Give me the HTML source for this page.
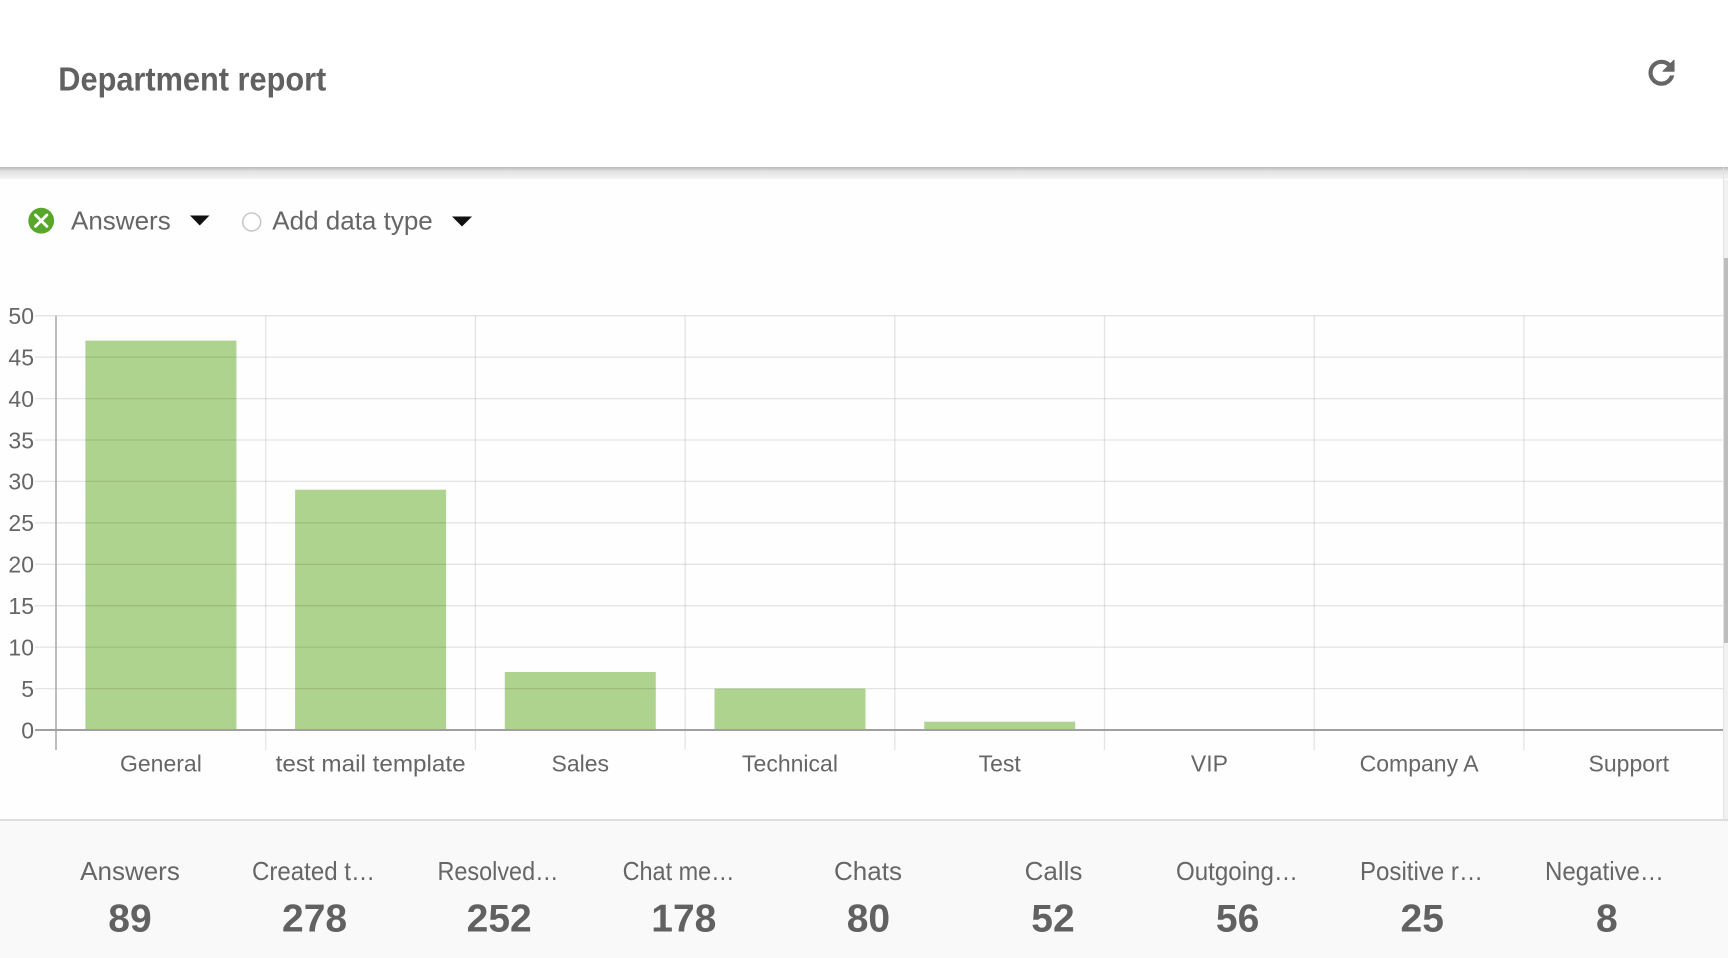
<!DOCTYPE html>
<html>
<head>
<meta charset="utf-8">
<style>
  html, body { margin:0; padding:0; width:1728px; height:958px; overflow:hidden; background:#fefefe; }
  svg { display:block; }
  text { font-family:"Liberation Sans", Arial, sans-serif; }
</style>
</head>
<body>
<svg width="1728" height="958" viewBox="0 0 1728 958" xmlns="http://www.w3.org/2000/svg">
  <defs>
    <linearGradient id="sh" x1="0" y1="0" x2="0" y2="1">
      <stop offset="0" stop-color="#b8b8b8"/>
      <stop offset="0.35" stop-color="#e2e2e2"/>
      <stop offset="1" stop-color="#f4f4f4"/>
    </linearGradient>
  </defs>

  <!-- background -->
  <rect x="0" y="0" width="1728" height="958" fill="#fefefe"/>

  <!-- header -->
  <rect x="0" y="0" width="1728" height="167" fill="#ffffff"/>
  <rect x="0" y="167" width="1728" height="12" fill="url(#sh)"/>
  <text x="58.3" y="90.7" font-size="33" font-weight="bold" fill="#616161" textLength="268" lengthAdjust="spacingAndGlyphs">Department report</text>

  <!-- refresh icon -->
  <svg x="1642.75" y="54" width="37.5" height="37.5" viewBox="0 0 24 24">
    <path d="M17.65 6.35C16.2 4.9 14.21 4 12 4c-4.420 0-7.99 3.58-7.99 8s3.57 8 7.99 8c3.73 0 6.84-2.55 7.73-6h-2.08c-.82 2.33-3.04 4-5.650 4-3.31 0-6-2.69-6-6s2.69-6 6-6c1.66 0 3.14.69 4.22 1.78L13 11h7V4l-2.35 2.35z" fill="#666" stroke="#666" stroke-width="0.7" stroke-linejoin="round"/>
  </svg>

  <!-- legend row -->
  <circle cx="41.2" cy="220.7" r="12.9" fill="#58a62a"/>
  <line x1="35.5" y1="215" x2="46.9" y2="226.4" stroke="#fff" stroke-width="2.8" stroke-linecap="round"/>
  <line x1="46.9" y1="215" x2="35.5" y2="226.4" stroke="#fff" stroke-width="2.8" stroke-linecap="round"/>
  <text x="71" y="229.3" font-size="26" fill="#666">Answers</text>
  <polygon points="190,215.5 209.5,215.5 199.75,225.5" fill="#111"/>
  <circle cx="251.7" cy="222" r="9" fill="#fff" stroke="#c8c8c8" stroke-width="1.6"/>
  <text x="272.3" y="229.3" font-size="26" fill="#666">Add data type</text>
  <polygon points="452,216.5 472,216.5 462,226.5" fill="#111"/>

  <!-- bars -->
  <g fill="#aed38e">
    <rect x="85.4" y="340.6" width="151" height="389.4"/>
    <rect x="295.1" y="489.7" width="151" height="240.3"/>
    <rect x="504.8" y="672" width="151" height="58"/>
    <rect x="714.5" y="688.6" width="151" height="41.4"/>
    <rect x="924.2" y="721.7" width="151" height="8.3"/>
  </g>

  <!-- horizontal gridlines -->
  <g stroke="rgba(0,0,0,0.1)" stroke-width="1.3">
    <line x1="35" y1="315.7" x2="1728" y2="315.7"/>
    <line x1="35" y1="357.1" x2="1728" y2="357.1"/>
    <line x1="35" y1="398.6" x2="1728" y2="398.6"/>
    <line x1="35" y1="440" x2="1728" y2="440"/>
    <line x1="35" y1="481.4" x2="1728" y2="481.4"/>
    <line x1="35" y1="522.9" x2="1728" y2="522.9"/>
    <line x1="35" y1="564.3" x2="1728" y2="564.3"/>
    <line x1="35" y1="605.7" x2="1728" y2="605.7"/>
    <line x1="35" y1="647.1" x2="1728" y2="647.1"/>
    <line x1="35" y1="688.6" x2="1728" y2="688.6"/>
  </g>
  <!-- vertical gridlines -->
  <g stroke="rgba(0,0,0,0.1)" stroke-width="1.3">
    <line x1="265.7" y1="315.7" x2="265.7" y2="750"/>
    <line x1="475.4" y1="315.7" x2="475.4" y2="750"/>
    <line x1="685.1" y1="315.7" x2="685.1" y2="750"/>
    <line x1="894.8" y1="315.7" x2="894.8" y2="750"/>
    <line x1="1104.5" y1="315.7" x2="1104.5" y2="750"/>
    <line x1="1314.2" y1="315.7" x2="1314.2" y2="750"/>
    <line x1="1523.9" y1="315.7" x2="1523.9" y2="750"/>
  </g>
  <!-- axes -->
  <line x1="56" y1="315.7" x2="56" y2="750" stroke="#a6a6a6" stroke-width="1.5"/>
  <line x1="35" y1="730" x2="1728" y2="730" stroke="#a0a0a0" stroke-width="2"/>

  <!-- y tick labels -->
  <g font-size="23" fill="#666" text-anchor="end">
    <text x="34" y="324">50</text>
    <text x="34" y="365.4">45</text>
    <text x="34" y="406.9">40</text>
    <text x="34" y="448.3">35</text>
    <text x="34" y="489.7">30</text>
    <text x="34" y="531.2">25</text>
    <text x="34" y="572.6">20</text>
    <text x="34" y="614">15</text>
    <text x="34" y="655.4">10</text>
    <text x="34" y="696.9">5</text>
    <text x="34" y="738.3">0</text>
  </g>

  <!-- x tick labels -->
  <g font-size="23" fill="#666" text-anchor="middle">
    <text x="160.9" y="771.7">General</text>
    <text x="370.6" y="771.7" textLength="190" lengthAdjust="spacingAndGlyphs">test mail template</text>
    <text x="580.3" y="771.7">Sales</text>
    <text x="790" y="771.7">Technical</text>
    <text x="999.7" y="771.7">Test</text>
    <text x="1209.4" y="771.7">VIP</text>
    <text x="1419.1" y="771.7">Company A</text>
    <text x="1628.8" y="771.7">Support</text>
  </g>

  <!-- scrollbar -->
  <rect x="1723" y="180" width="5" height="640" fill="#f1f1f1"/>
  <line x1="1723.5" y1="167" x2="1723.5" y2="820" stroke="#e3e3e3" stroke-width="1"/>
  <rect x="1724" y="258" width="4" height="385" fill="#bdbdbd"/>

  <!-- summary panel -->
  <rect x="0" y="820" width="1728" height="138" fill="#f9f9f9"/>
  <rect x="0" y="819" width="1728" height="2" fill="#dedede"/>

  <g font-size="26" fill="#666">
    <text x="130" y="880" text-anchor="middle">Answers</text>
    <text x="252" y="880" textLength="123" lengthAdjust="spacingAndGlyphs">Created t…</text>
    <text x="437.5" y="880" textLength="121" lengthAdjust="spacingAndGlyphs">Resolved…</text>
    <text x="622.6" y="880" textLength="112" lengthAdjust="spacingAndGlyphs">Chat me…</text>
    <text x="868" y="880" text-anchor="middle">Chats</text>
    <text x="1053.5" y="880" text-anchor="middle">Calls</text>
    <text x="1176" y="880" textLength="122" lengthAdjust="spacingAndGlyphs">Outgoing…</text>
    <text x="1360" y="880" textLength="123" lengthAdjust="spacingAndGlyphs">Positive r…</text>
    <text x="1545" y="880" textLength="119" lengthAdjust="spacingAndGlyphs">Negative…</text>
  </g>
  <g font-size="39" font-weight="bold" fill="#616161" text-anchor="middle">
    <text x="130" y="931.7">89</text>
    <text x="314.6" y="931.7">278</text>
    <text x="499.2" y="931.7">252</text>
    <text x="683.8" y="931.7">178</text>
    <text x="868.4" y="931.7">80</text>
    <text x="1053" y="931.7">52</text>
    <text x="1237.6" y="931.7">56</text>
    <text x="1422.2" y="931.7">25</text>
    <text x="1606.8" y="931.7">8</text>
  </g>
</svg>
</body>
</html>
